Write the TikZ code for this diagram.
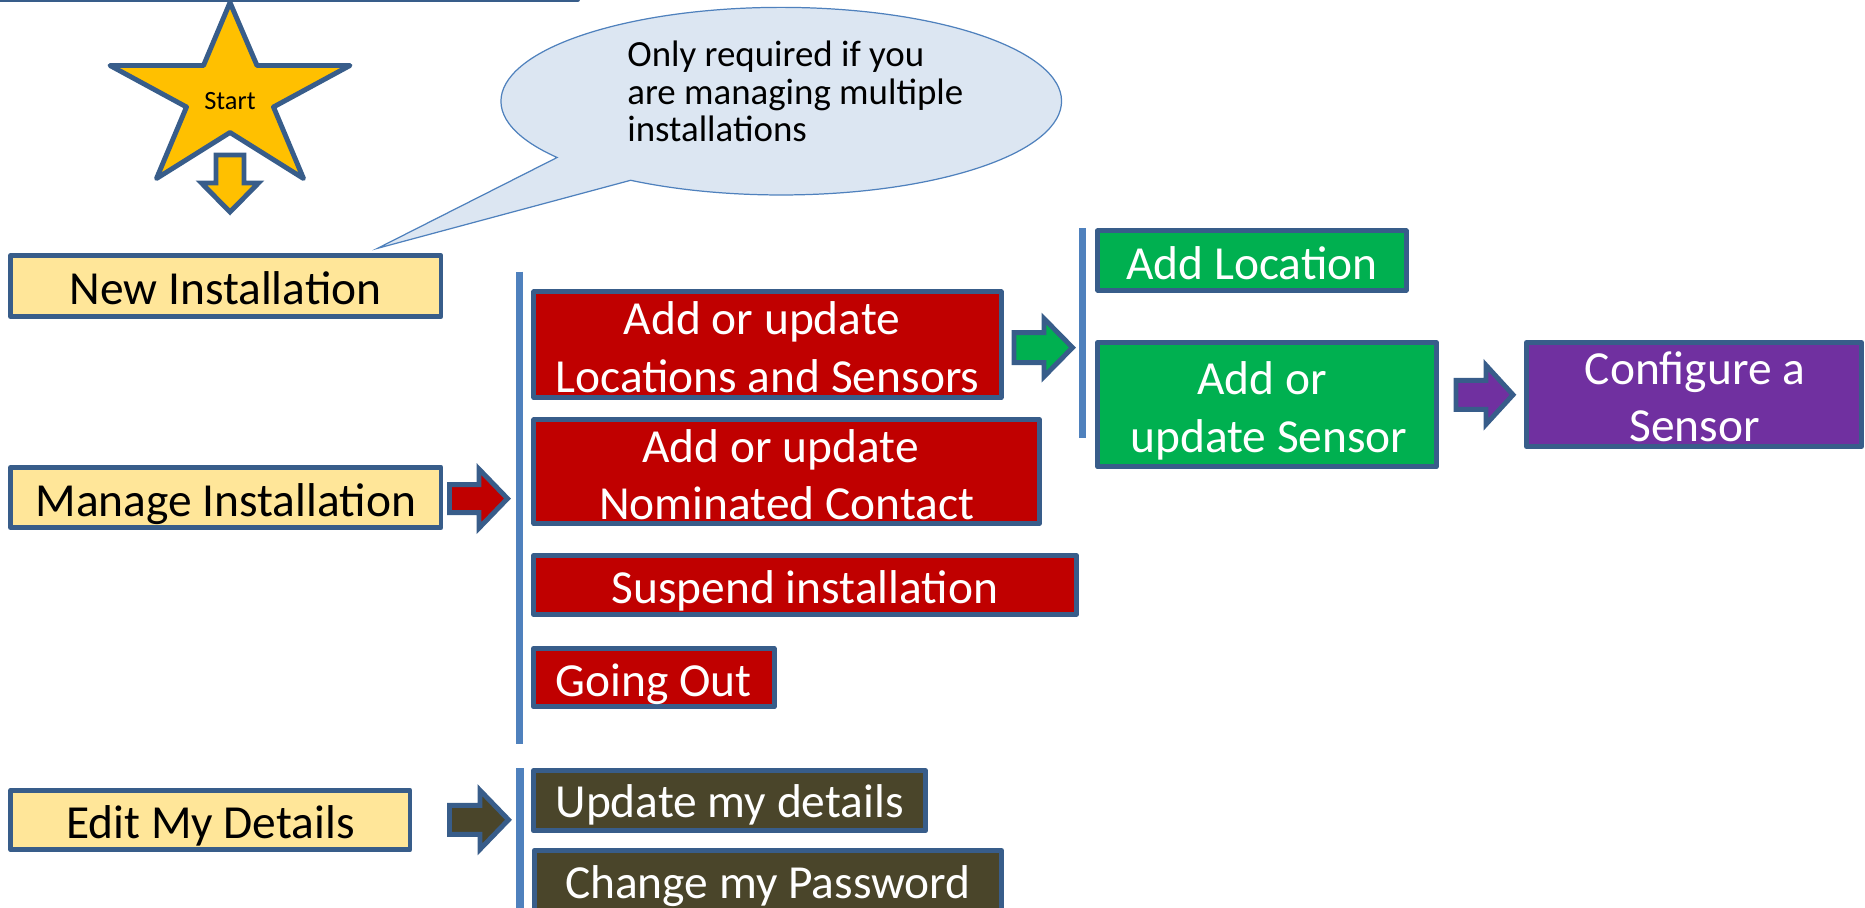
\documentclass[tikz,border=0pt]{standalone}
\usepackage{fontspec}
\setmainfont{Carlito}
\usetikzlibrary{fit}

\definecolor{edge}{HTML}{385D8A}
\definecolor{barblue}{HTML}{4F81BD}
\definecolor{pale}{HTML}{FFE699}
\definecolor{starfill}{HTML}{FFC000}
\definecolor{redbox}{HTML}{C00000}
\definecolor{greenbox}{HTML}{00B050}
\definecolor{purplebox}{HTML}{7030A0}
\definecolor{olivebox}{HTML}{4A452A}
\definecolor{bubblefill}{HTML}{DCE6F2}

% right-pointing block arrow: fill, tail x, head base x, tip x, centre y, shaft half-height, head half-height
\newcommand\rightblock[7]{%
  \filldraw[fill=#1, blockline]
    ({#2},{#5-#6}) -- ({#3},{#5-#6}) -- ({#3},{#5-#7}) -- ({#4},{#5})
    -- ({#3},{#5+#7}) -- ({#3},{#5+#6}) -- ({#2},{#5+#6}) -- cycle;}

\begin{document}
\begin{tikzpicture}[x=0.02cm, y=-0.02cm,
  blockline/.style={draw=edge, line width=2.8pt, line join=miter},
  box/.style={draw=edge, line width=2.8pt, line join=round, inner sep=0pt, outer sep=0pt},
  menu/.style={box, fill=pale},
  redstep/.style={box, fill=redbox},
  greenstep/.style={box, fill=greenbox},
  purplestep/.style={box, fill=purplebox},
  olivestep/.style={box, fill=olivebox},
  bigtext/.style={inner sep=0pt, anchor=base, font=\fontsize{27}{32}\selectfont},
  darktext/.style={bigtext, text=black},
  lighttext/.style={bigtext, text=white},
  notetext/.style={inner sep=0pt, anchor=base west, font=\fontsize{21}{25}\selectfont},
  divider/.style={draw=barblue, line width=4pt},
]
\useasboundingbox (0,0) rectangle (1865,908);

% banner box above the picture, only its lower edge shows
\node[box, fit={(-20,-120) (578,-0.6)}] (banner) {};

% callout bubble
\coordinate (bubblecentre) at (781.3,101.2);
\coordinate (bubbletip) at (377.6,248.3);
\filldraw[fill=bubblefill, draw=barblue, line width=0.7pt, line join=miter]
  (557.1,157.5) arc[start angle=143.1, end angle=482.5, x radius=280.3, y radius=93.8]
  -- (bubbletip) -- cycle;
\node[notetext] (note1) at (627,66.7) {Only required if you};
\node[notetext] (note2) at (627,104.2) {are managing multiple};
\node[notetext] (note3) at (627,141.7) {installations};

% start star
\filldraw[fill=starfill, draw=edge, line width=2.8pt, line join=round]
  (230,2.5) -- (257,65.5) -- (350,65.5) -- (273.5,107) -- (303.5,178.5)
  -- (230,132.5) -- (156.5,178.5) -- (186.5,107) -- (110,65.5) -- (203.5,65.5) -- cycle;
\node[inner sep=0pt, anchor=base, font=\fontsize{15}{18}\selectfont] (start) at (230,110) {Start};

% downward block arrow under the star
\filldraw[fill=starfill, blockline]
  (216,155) -- (244,155) -- (244,183) -- (258.5,183) -- (230,212)
  -- (201.5,183) -- (216,183) -- cycle;

% main menu
\node[menu, fit={(10.5,255.8) (441,316.5)}] (newinst) {};
\node[darktext] (newinst-t) at (225.5,305) {New Installation};
\node[menu, fit={(10.5,467.5) (441,527.5)}] (manage) {};
\node[darktext] (manage-t) at (225.8,516.7) {Manage Installation};
\node[menu, fit={(10.9,790.2) (410,849.8)}] (edit) {};
\node[darktext] (edit-t) at (210.5,838.3) {Edit My Details};

% installation actions
\rightblock{redbox}{449.5}{479}{507.5}{498.6}{14}{29.5}
\draw[divider] (519.7,271.7) -- (519.7,744);

\node[redstep, fit={(533.9,291.8) (1001.1,397.5)}] (locs) {};
\node[lighttext] (locs-t1) at (762,335) {Add or update};
\node[lighttext] (locs-t2) at (767.5,392.3) {Locations and Sensors};

\node[redstep, fit={(533.9,419.8) (1039.4,523.5)}] (contact) {};
\node[lighttext] (contact-t1) at (780.5,462.7) {Add or update};
\node[lighttext] (contact-t2) at (786.6,519.3) {Nominated Contact};

\node[redstep, fit={(533.5,555.8) (1076.5,614.2)}] (suspend) {};
\node[lighttext] (suspend-t) at (805,603.3) {Suspend installation};

\node[redstep, fit={(533.5,648.5) (774.1,706.8)}] (goingout) {};
\node[lighttext] (goingout-t) at (653.8,696.7) {Going Out};

% location and sensor actions
\rightblock{greenbox}{1014}{1044}{1072.5}{347.6}{15}{29}
\draw[divider] (1082,228.3) -- (1082,438.3);

\node[greenstep, fit={(1097.7,230.8) (1406.1,290.2)}] (addloc) {};
\node[lighttext] (addloc-t) at (1251.9,280) {Add Location};

\node[greenstep, fit={(1097.7,342.5) (1436.3,466.8)}] (addsensor) {};
\node[lighttext] (addsensor-t1) at (1262,395) {Add or};
\node[lighttext] (addsensor-t2) at (1269,452.3) {update Sensor};

\rightblock{purplebox}{1456}{1486}{1513}{394.8}{14.5}{29.5}
\node[purplestep, fit={(1526.5,342.5) (1861.5,446.5)}] (configure) {};
\node[lighttext] (configure-t1) at (1695,385) {Configure a};
\node[lighttext] (configure-t2) at (1694.5,441.7) {Sensor};

% personal details actions
\rightblock{olivebox}{449.5}{480}{508.5}{819.8}{14.5}{29.5}
\draw[divider] (520,768.3) -- (520,930);

\node[olivestep, fit={(533.5,770.8) (925.5,830.8)}] (update) {};
\node[lighttext] (update-t) at (729.6,817) {Update my details};

\node[olivestep, fit={(534.2,850.5) (1001.5,930)}] (password) {};
\node[lighttext] (password-t) at (767.9,898) {Change my Password};
\end{tikzpicture}
\end{document}
